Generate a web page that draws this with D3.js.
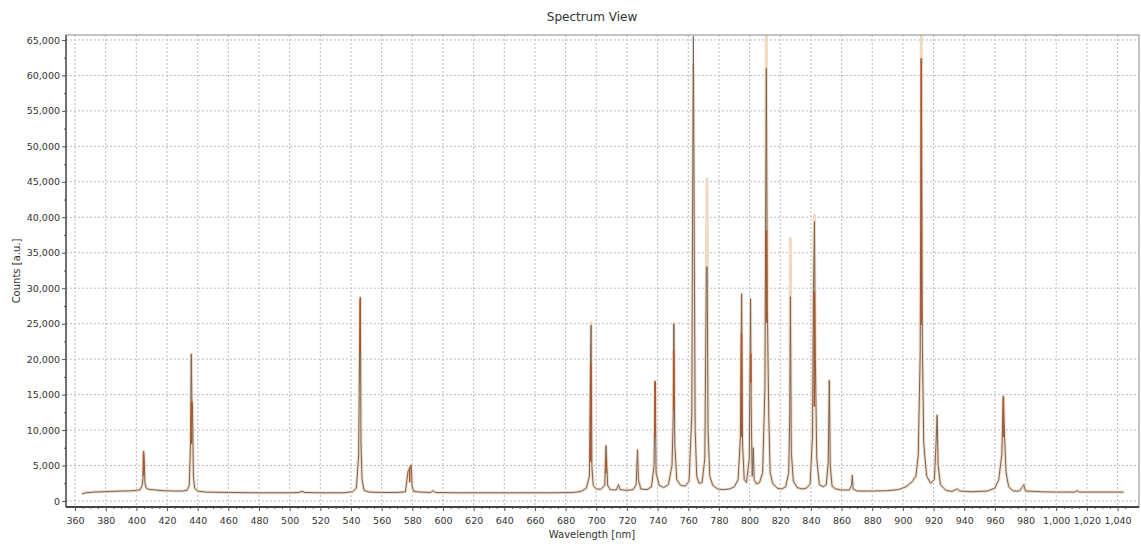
<!DOCTYPE html>
<html>
<head>
<meta charset="utf-8">
<script src="https://cdn.jsdelivr.net/npm/d3@7"></script>
<style>
  html, body { margin: 0; padding: 0; background: #fff; }
  svg { display: block; font-family: "DejaVu Sans", Verdana, sans-serif; }
</style>
</head>
<body>
<svg id="chart" width="1141" height="544"></svg>
<script>
// ---- data ----
const title = "Spectrum View";
const xLabel = "Wavelength [nm]";
const yLabel = "Counts [a.u.]";

const xTicks = [360,380,400,420,440,460,480,500,520,540,560,580,600,620,640,660,680,700,720,740,760,780,800,820,840,860,880,900,920,940,960,980,1000,1020,1040];
const yTicks = [0,5000,10000,15000,20000,25000,30000,35000,40000,45000,50000,55000,60000,65000];

// outer (light) spectrum trace
const wavelength = [364.5,367,372,378,383,390,395,400,402.5,403.8,404.3,404.7,405.2,405.6,406.5,408,412,418,425,430,433,434.5,435.3,435.8,436.2,436.6,437.2,438,440,445,460,480,500,506,508,510,520,535,541,543.5,545,545.6,546.1,546.5,547.2,548.5,552,560,570,575.5,576.5,577.2,578.3,579.3,579.9,581,585,592,593.5,595,610,630,650,670,685,690,693.5,695.5,696.2,696.6,697.1,698,700,703,705.5,706.3,706.8,707.4,709,713,714.5,715.5,720,724,726,726.9,727.5,729,733,736,737.7,738.4,739,741,744,747,749.4,750.2,750.6,751.2,752.5,755,758,760.5,762.3,763.3,764.5,765.5,767,769,770.8,771.8,772.3,772.9,774,776,779,783,787,790,792.5,794,794.8,795.4,796.5,798,799.8,800.6,801.1,801.7,802.4,803,804.5,806.5,808.5,810,810.9,811.6,812.5,813.4,815,818,821,823.5,825.5,826.2,826.6,827.2,828.5,831,834,837,839.5,841,841.7,842.3,842.9,843.8,845.5,848,850,851.3,852,852.6,853.8,856,860,865,866.5,867,867.5,870,880,890,897,902,906,908.5,910,911.3,912,912.7,913.6,915.5,918,920.5,921.6,922.3,923,924.5,928,932,935.5,937,945,955,960,962.5,964.5,965.5,966.3,967.3,969,972,976,978,978.8,980,990,1000,1012,1013.8,1015,1030,1044];
const counts = [1000,1150,1250,1300,1350,1400,1420,1480,1600,2200,3200,7000,5500,2500,1800,1650,1550,1450,1400,1400,1500,2200,8000,20700,14200,13600,3500,1800,1400,1250,1200,1150,1150,1200,1350,1200,1150,1150,1300,1800,6500,21000,28700,8300,3000,1500,1250,1200,1200,1300,3000,4200,4600,5100,2000,1350,1250,1200,1450,1200,1150,1150,1150,1150,1200,1350,1800,3500,19000,25100,5000,2200,1700,1650,2200,7800,5500,2200,1600,1550,2300,1600,1500,1600,2300,7200,3000,1700,1600,2000,5000,16900,4000,2200,1900,2300,5000,12000,25000,8000,3000,2200,2100,2800,12000,61500,10000,3500,2500,2600,6000,33000,45400,10000,3500,2200,1700,1600,1700,2000,3000,9000,29200,8000,3000,2600,6000,28500,12000,3500,7500,3000,2400,2600,4000,16000,65535,27000,12000,4000,2500,1800,1700,2000,4000,12000,37000,7000,2800,1900,1700,1800,2400,9000,30000,40300,20000,6000,2300,2000,2300,5500,17000,5000,2100,1700,1550,1550,2200,3600,1700,1400,1400,1450,1600,2000,2700,3500,6500,21000,65535,22000,8000,3500,2500,3000,8000,12100,5000,2300,1500,1350,1700,1400,1300,1400,1800,3000,6500,14800,9000,4000,2000,1400,1400,2000,2300,1400,1300,1250,1250,1450,1250,1250,1250];

// inner (dark) trace differs from the outer one only at these peak tops
const innerPeakNm     = [696.6, 763.3, 772.3, 810.9, 826.6, 842.3, 912.0];
const innerPeakCounts = [24800, 65535, 33000, 61000, 28800, 39400, 62400];

// rust-coloured portions of the lines
const rustNm = [404.7, 436.0, 546.0, 578.3, 696.4, 706.4, 738.4, 750.5, 794.7, 800.8, 810.9, 842.2, 912.0, 965.5];
const rustLo = [3500, 8000, 21000, 2600, 5500, 3900, 9000, 12800, 9000, 16600, 25100, 13300, 24800, 9000];
const rustHi = [6800, 14000, 28500, 4800, 19400, 6000, 16800, 21300, 23600, 20800, 38200, 29500, 62400, 14500];

// ---- layout ----
const svg = d3.select("#chart");
const L = 66, R = 1139, T = 35, B = 507;
const x = d3.scaleLinear().domain([354.1, 1054]).range([L, R]);
const y = d3.scaleLinear().domain([-850, 65700]).range([B, T]);

// gridlines
const grid = svg.append("g");
grid.selectAll("line.v").data(xTicks).join("line")
  .attr("x1", d => x(d)).attr("x2", d => x(d)).attr("y1", T).attr("y2", B)
  .attr("stroke", "#bcbcbc").attr("stroke-dasharray", "2,2").attr("stroke-width", 1);
grid.selectAll("line.h").data(yTicks).join("line")
  .attr("x1", L).attr("x2", R).attr("y1", d => y(d)).attr("y2", d => y(d))
  .attr("stroke", "#bcbcbc").attr("stroke-dasharray", "2,2").attr("stroke-width", 1);

// data
const outer = wavelength.map((w, i) => [w, counts[i]]);
const inner = outer.map(p => {
  const k = innerPeakNm.indexOf(p[0]);
  return k >= 0 ? [p[0], innerPeakCounts[k]] : p;
});
const line = d3.line().x(d => x(d[0])).y(d => y(d[1]));

svg.append("defs").append("clipPath").attr("id", "clip")
  .append("rect").attr("x", L).attr("y", T).attr("width", R - L).attr("height", B - T);
const plot = svg.append("g").attr("clip-path", "url(#clip)");

plot.append("path").datum(outer).attr("d", line)
  .attr("fill", "none").attr("stroke", "#f0d9c3").attr("stroke-width", 3).attr("stroke-linejoin", "round");
plot.append("path").datum(inner).attr("d", line)
  .attr("fill", "none").attr("stroke", "#7a665a").attr("stroke-width", 1).attr("stroke-linejoin", "round");
plot.selectAll("line.rust").data(rustNm).join("line")
  .attr("x1", d => x(d)).attr("x2", d => x(d))
  .attr("y1", (d, i) => y(rustLo[i])).attr("y2", (d, i) => y(rustHi[i]))
  .attr("stroke", "#b0552c").attr("stroke-width", 1.6);

// frame
svg.append("rect").attr("x", L).attr("y", T).attr("width", R - L).attr("height", B - T)
  .attr("fill", "none").attr("stroke", "#8a8a8a").attr("stroke-width", 1);
svg.append("line").attr("x1", L).attr("x2", L).attr("y1", T).attr("y2", B)
  .attr("stroke", "#555").attr("stroke-width", 1.5);
svg.append("line").attr("x1", L).attr("x2", R).attr("y1", B).attr("y2", B)
  .attr("stroke", "#444").attr("stroke-width", 2);

// axes
const fmt = d3.format(",");
const xAxis = d3.axisBottom(x).tickValues(xTicks).tickFormat(fmt).tickSize(4).tickPadding(6);
const gx = svg.append("g").attr("transform", `translate(0,${B})`).call(xAxis);
const yAxis = d3.axisLeft(y).tickValues(yTicks).tickFormat(fmt).tickSize(4).tickPadding(2);
const gy = svg.append("g").attr("transform", `translate(${L},0)`).call(yAxis);
[gx, gy].forEach(g => {
  g.select(".domain").remove();
  g.selectAll(".tick line").attr("stroke", "#555");
  g.selectAll(".tick text").attr("fill", "#333").style("font-size", "9.5px")
    .style("font-family", "'DejaVu Sans', sans-serif");
});
// minor ticks
const xMinor = d3.range(360, 1050, 5).filter(v => v % 20 !== 0);
svg.append("g").attr("transform", `translate(0,${B})`)
  .call(d3.axisBottom(x).tickValues(xMinor).tickFormat("").tickSize(2))
  .call(g => g.select(".domain").remove())
  .selectAll("line").attr("stroke", "#555");
const yMinor = d3.range(2500, 65000, 5000);
svg.append("g").attr("transform", `translate(${L},0)`)
  .call(d3.axisLeft(y).tickValues(yMinor).tickFormat("").tickSize(2))
  .call(g => g.select(".domain").remove())
  .selectAll("line").attr("stroke", "#555");

// titles
svg.append("text").attr("x", 592).attr("y", 21).attr("text-anchor", "middle")
  .attr("fill", "#333").style("font-size", "12px").text(title);
svg.append("text").attr("x", 592).attr("y", 538).attr("text-anchor", "middle")
  .attr("fill", "#333").style("font-size", "10px").text(xLabel);
svg.append("text").attr("transform", "translate(20,271) rotate(-90)").attr("text-anchor", "middle")
  .attr("fill", "#333").style("font-size", "10px").text(yLabel);
</script>
</body>
</html>
